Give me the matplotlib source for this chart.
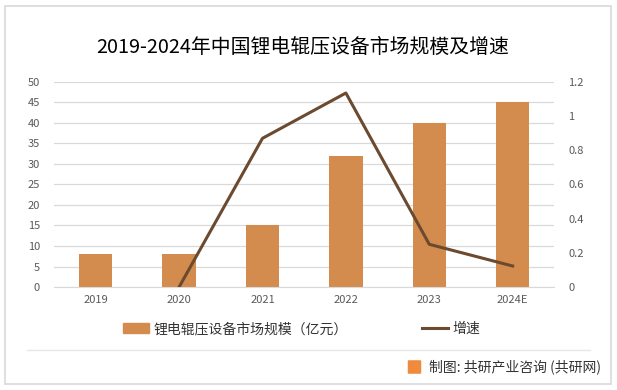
import matplotlib
matplotlib.use("Agg")
import matplotlib.pyplot as plt
from matplotlib.patches import Rectangle, FancyBboxPatch
from matplotlib.lines import Line2D

plt.rcParams['font.family'] = ['Noto Sans CJK SC', 'DejaVu Sans']

years = ["2019", "2020", "2021", "2022", "2023", "2024E"]
scale = [8, 8, 15, 32, 40, 45]
growth = [None, 0.0, 0.87, 1.135, 0.25, 0.123]

bar_color = "#D38C4E"
line_color = "#6B4A30"
text_color = "#595959"

fig = plt.figure(figsize=(6.17, 3.9), dpi=100)
fig.patches.append(Rectangle((5 / 617, 1 - 384 / 390), 606 / 617, 378 / 390,
                             transform=fig.transFigure, fill=False,
                             edgecolor="#D9D9D9", lw=1.2))

ax = fig.add_axes([0.0875, 0.264, 0.811, 0.526])
x = list(range(len(years)))
ax.bar(x, scale, width=0.4, color=bar_color, zorder=2)
ax.set_xlim(-0.5, len(years) - 0.5)
ax.set_ylim(0, 50)
ax.set_yticks(range(0, 51, 5))
ax.grid(axis="y", color="#D9D9D9", lw=0.9, zorder=0)
ax.set_xticks(x)
ax.set_xticklabels(years)
for s in ["top", "right", "left"]:
    ax.spines[s].set_visible(False)
ax.spines["bottom"].set_color("#D9D9D9")
ax.tick_params(length=0, labelsize=8, colors=text_color, pad=6)
ax.tick_params(axis="y", pad=10)

ax2 = ax.twinx()
gx = [i for i, g in zip(x, growth) if g is not None]
gy = [g for g in growth if g is not None]
ax2.plot(gx, gy, color=line_color, lw=2.2, zorder=3)
ax2.set_ylim(0, 1.2)
ax2.set_yticks([0, 0.2, 0.4, 0.6, 0.8, 1, 1.2])
ax2.set_yticklabels(["0", "0.2", "0.4", "0.6", "0.8", "1", "1.2"])
for s in ax2.spines.values():
    s.set_visible(False)
ax2.tick_params(length=0, labelsize=8, colors=text_color, pad=10)

fig.text(0.49, 1 - 47 / 390, "2019-2024年中国锂电辊压设备市场规模及增速",
         ha="center", va="center", fontsize=14.3, color="#000000")

handles = [Rectangle((0, 0), 1, 1, color=bar_color),
           Line2D([0], [0], color=line_color, lw=2.2)]
fig.legend(handles, ["锂电辊压设备市场规模（亿元）", "增速"],
           loc="center", bbox_to_anchor=(0.489, 1 - 329 / 390), ncol=2,
           frameon=False, fontsize=10, columnspacing=5.4,
           handlelength=1.85, handletextpad=0.3, labelcolor="#333333")

fig.add_artist(Line2D([27 / 617, 590 / 617], [1 - 350 / 390, 1 - 350 / 390],
                      transform=fig.transFigure, color="#E6E6E6", lw=1))
fig.patches.append(FancyBboxPatch((409 / 617, 1 - 373 / 390), 11 / 617, 12 / 390,
                                  boxstyle="round,pad=0.002", transform=fig.transFigure,
                                  color="#F08A3C", lw=0))
fig.text(429 / 617, 1 - 367 / 390, "制图: 共研产业咨询 (共研网)",
         ha="left", va="center", fontsize=10, color="#333333")

fig.savefig("out.png", dpi=100)
